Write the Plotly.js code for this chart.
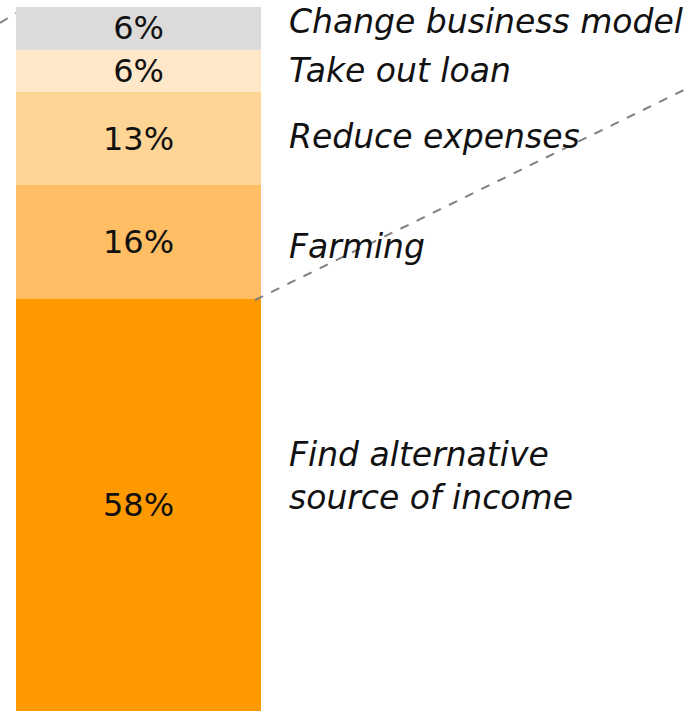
<!DOCTYPE html>
<html>
<head>
<meta charset="utf-8">
<script src="https://cdn.plot.ly/plotly-3.0.1.min.js"></script>
<style>html,body{margin:0;padding:0;background:#fff;}#chart{width:690px;height:711px;}</style>
</head>
<body>
<div id="chart"></div>
<script>
// Data (bottom to top)
const categories = ["Find alternative<br>source of income", "Farming", "Reduce expenses", "Take out loan", "Change business model"];
const shares = [58, 16, 13, 6, 6];
const colors = ["#ff9900", "#ffbe63", "#ffd596", "#ffe8c9", "#dcdbda"];

const FONT = "'DejaVu Sans', sans-serif";
const W = 690, H = 711;

const traces = shares.map((v, i) => ({
  type: "bar",
  x: [0],
  y: [v],
  width: [1],
  marker: {color: colors[i], line: {width: 0}},
  text: [v + "%"],
  texttemplate: "%{text}",
  textposition: "inside",
  insidetextanchor: "middle",
  constraintext: "none",
  textfont: {family: FONT, size: 32, color: "#111"},
  hoverinfo: "skip",
  showlegend: false
}));

// label offsets in px (styling only)
const labelShift = [29, -4.5, 2, 0.5, 6.5];
let cum = 0;
const annotations = shares.map((v, i) => {
  const mid = cum + v / 2;
  cum += v;
  return {
    xref: "paper", x: 287 / W, xanchor: "left",
    yref: "y", y: mid, yanchor: "middle", yshift: labelShift[i],
    text: "<i>" + categories[i] + "</i>",
    showarrow: false, align: "left",
    font: {family: FONT, size: 33, color: "#111"}
  };
});

const pxX = p => p / W, pxY = p => 1 - p / H;
const shapes = [
  {type: "line", xref: "paper", yref: "paper", x0: pxX(0), y0: pxY(23), x1: pxX(16), y1: pxY(13),
   line: {color: "#808080", width: 2, dash: "dash"}, layer: "below"},
  {type: "line", xref: "paper", yref: "paper", x0: pxX(255), y0: pxY(300), x1: pxX(690), y1: pxY(87),
   line: {color: "#808080", width: 2, dash: "dash"}, layer: "above"}
];

const unit = 245; // px per x unit
const layout = {
  width: W, height: H,
  margin: {l: 0, r: 0, t: 0, b: 0},
  paper_bgcolor: "#fff", plot_bgcolor: "#fff",
  barmode: "stack",
  xaxis: {range: [-0.5 - 16 / unit, 0.5 + (W - 261) / unit], visible: false, fixedrange: true},
  yaxis: {range: [0, 100], visible: false, fixedrange: true},
  annotations: annotations,
  shapes: shapes,
  showlegend: false
};

Plotly.newPlot("chart", traces, layout, {displayModeBar: false, staticPlot: true});
</script>
</body>
</html>
